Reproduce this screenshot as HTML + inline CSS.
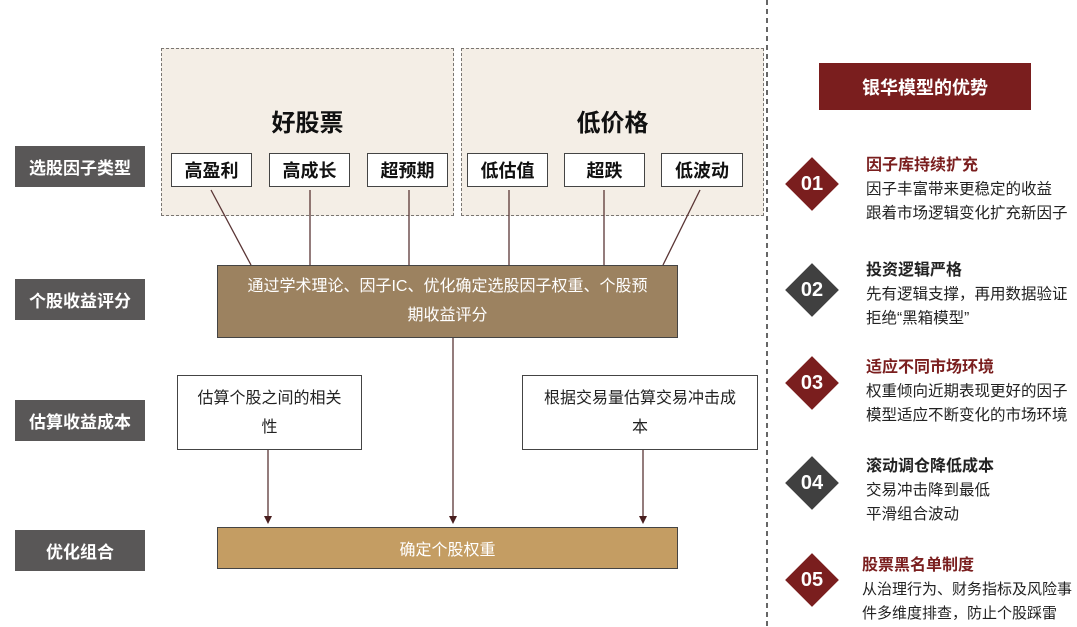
<!DOCTYPE html>
<html><head><meta charset="utf-8">
<style>
*{margin:0;padding:0;box-sizing:border-box}
body{width:1077px;height:627px;background:#fff;position:relative;overflow:hidden;font-family:"Liberation Sans","Noto Sans CJK SC",sans-serif}
.a{position:absolute}
.lab{position:absolute;left:15px;width:130px;height:41px;background:#595757;color:#fff;font-weight:bold;font-size:17px;display:flex;align-items:center;justify-content:center}
.dash{position:absolute;top:48px;height:168px;background:#f4eee6;border:1.6px dashed #7a7672}
.tt{position:absolute;font-size:24px;font-weight:bold;color:#111;text-align:center}
.sb{position:absolute;top:153px;height:34px;background:#fff;border:1.5px solid #444;font-size:18px;font-weight:bold;color:#111;display:flex;align-items:center;justify-content:center}
.wb{position:absolute;top:375px;height:75px;background:#fff;border:1.2px solid #444;font-size:16px;color:#222;text-align:center;line-height:29px;padding-top:8px}
.dm{position:absolute;left:793px;width:38px;height:38px;transform:rotate(45deg)}
.dn{position:absolute;left:793px;width:38px;height:38px;color:#fff;font-weight:bold;font-size:20px;font-family:"Liberation Sans Narrow","Liberation Sans",sans-serif;display:flex;align-items:center;justify-content:center}
.it{position:absolute;left:866px;font-size:16px;font-weight:bold;white-space:nowrap}
.ix{position:absolute;left:866px;font-size:15.5px;color:#222;line-height:24px;white-space:nowrap}
</style></head><body>
<div class="lab" style="top:146px">选股因子类型</div>
<div class="lab" style="top:279px">个股收益评分</div>
<div class="lab" style="top:400px">估算收益成本</div>
<div class="lab" style="top:530px">优化组合</div>

<div class="dash" style="left:161px;width:293px"></div>
<div class="dash" style="left:461px;width:303px"></div>
<div class="tt" style="left:161px;width:293px;top:103px">好股票</div>
<div class="tt" style="left:461px;width:303px;top:103px">低价格</div>

<svg class="a" style="left:0;top:0" width="1077" height="627">
<defs><marker id="ar" markerWidth="8" markerHeight="8" refX="4" refY="4" orient="auto" markerUnits="userSpaceOnUse"><path d="M0,0 L8,4 L0,8 z" fill="#4a1f1f"/></marker></defs>
<g stroke="#5a3535" stroke-width="1.3">
<line x1="211" y1="190" x2="251" y2="265"/>
<line x1="310" y1="190" x2="310" y2="265"/>
<line x1="409" y1="190" x2="409" y2="265"/>
<line x1="509" y1="190" x2="509" y2="265"/>
<line x1="604" y1="190" x2="604" y2="265"/>
<line x1="700" y1="190" x2="663" y2="265"/>
<line x1="268" y1="450" x2="268" y2="520" marker-end="url(#ar)"/>
<line x1="453" y1="338" x2="453" y2="520" marker-end="url(#ar)"/>
<line x1="643" y1="450" x2="643" y2="520" marker-end="url(#ar)"/>
</g>
<line x1="767" y1="0" x2="767" y2="627" stroke="#333" stroke-width="1.5" stroke-dasharray="5,4"/>
</svg>

<div class="sb" style="left:171px;width:81px">高盈利</div>
<div class="sb" style="left:269px;width:81px">高成长</div>
<div class="sb" style="left:367px;width:81px">超预期</div>
<div class="sb" style="left:467px;width:81px">低估值</div>
<div class="sb" style="left:564px;width:81px">超跌</div>
<div class="sb" style="left:661px;width:82px">低波动</div>

<div class="a" style="left:217px;top:265px;width:461px;height:73px;background:#9c8260;border:1.5px solid #444;color:#fff;font-size:16px;line-height:29px;text-align:center;padding:6px 10px 0">通过学术理论、因子IC、优化确定选股因子权重、个股预<br>期收益评分</div>

<div class="wb" style="left:177px;width:185px">估算个股之间的相关<br>性</div>
<div class="wb" style="left:522px;width:236px">根据交易量估算交易冲击成<br>本</div>

<div class="a" style="left:217px;top:527px;width:461px;height:42px;background:#c49d63;border:1.5px solid #444;color:#fff;font-size:16px;display:flex;align-items:center;justify-content:center">确定个股权重</div>

<div class="a" style="left:819px;top:63px;width:212px;height:47px;background:#7a1e1e;color:#fff;font-weight:bold;font-size:18px;display:flex;align-items:center;justify-content:center">银华模型的优势</div>

<div class="dm" style="top:165px;background:#7a1e1e"></div><div class="dn" style="top:165px">01</div>
<div class="dm" style="top:271px;background:#404040"></div><div class="dn" style="top:271px">02</div>
<div class="dm" style="top:364px;background:#7a1e1e"></div><div class="dn" style="top:364px">03</div>
<div class="dm" style="top:464px;background:#404040"></div><div class="dn" style="top:464px">04</div>
<div class="dm" style="top:561px;background:#7a1e1e"></div><div class="dn" style="top:561px">05</div>

<div class="it" style="top:151px;color:#7a1e1e">因子库持续扩充</div>
<div class="ix" style="top:178px">因子丰富带来更稳定的收益<br>跟着市场逻辑变化扩充新因子</div>
<div class="it" style="top:256px;color:#222">投资逻辑严格</div>
<div class="ix" style="top:283px">先有逻辑支撑，再用数据验证<br>拒绝“黑箱模型”</div>
<div class="it" style="top:353px;color:#7a1e1e">适应不同市场环境</div>
<div class="ix" style="top:380px">权重倾向近期表现更好的因子<br>模型适应不断变化的市场环境</div>
<div class="it" style="top:452px;color:#222">滚动调仓降低成本</div>
<div class="ix" style="top:479px">交易冲击降到最低<br>平滑组合波动</div>
<div class="it" style="top:551px;left:862px;color:#7a1e1e">股票黑名单制度</div>
<div class="ix" style="top:578px;left:862px;font-size:15px">从治理行为、财务指标及风险事<br>件多维度排查，防止个股踩雷</div>
</body></html>
